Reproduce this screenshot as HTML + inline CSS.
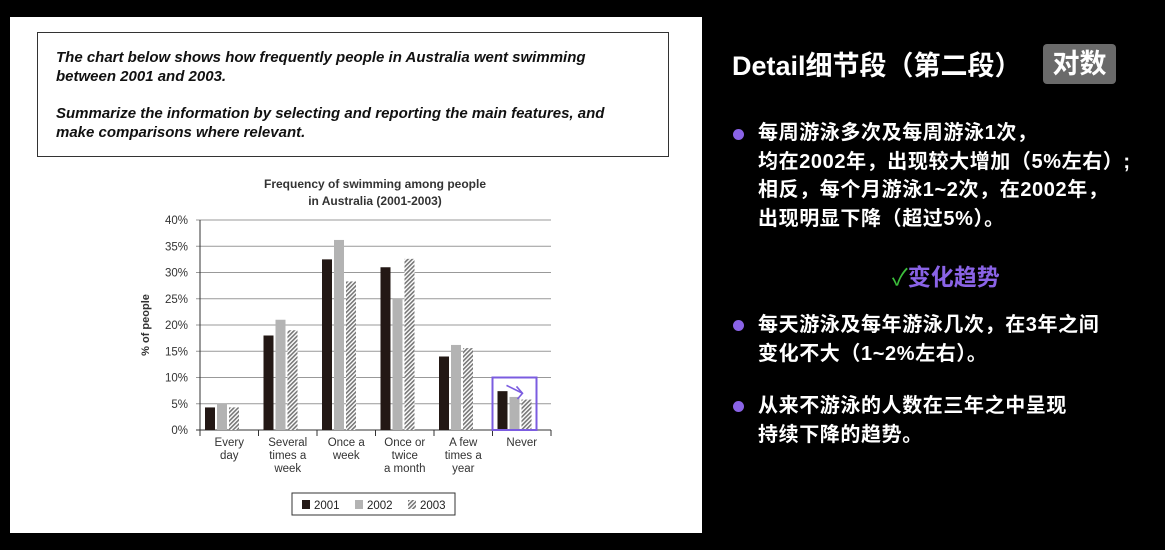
<!DOCTYPE html>
<html><head><meta charset="utf-8"><style>
body{margin:0;width:1165px;height:550px;background:#000;position:relative;overflow:hidden;font-family:"Liberation Sans","Noto Sans CJK SC",sans-serif}
.panel{position:absolute;left:10px;top:17px;width:692px;height:516px;background:#fff}
.task{position:absolute;left:37px;top:32px;width:632px;height:125px;border:1px solid #333;box-sizing:border-box;padding:15px 40px 0 18px;font-style:italic;font-weight:bold;font-size:15px;line-height:19px;color:#111}
.task p{margin:0 0 18px}
svg text{font-family:"Liberation Sans",sans-serif}
.r{position:absolute;color:#fff;font-family:"Liberation Sans","Noto Sans CJK SC",sans-serif}
.title{left:732px;top:44px;font-size:27px;font-weight:bold}
.badge{left:1043px;top:44px;width:73px;height:40px;background:#6a6a6a;border-radius:4px;font-size:27px;font-weight:bold;text-align:center;line-height:40px}
.b{left:758px;font-size:20px;letter-spacing:0.6px;font-weight:bold;line-height:28.5px}
.dot{position:absolute;width:11px;height:11px;border-radius:50%;background:#8a63e6}
</style></head><body>
<div class="panel"></div>
<div class="task"><p>The chart below shows how frequently people in Australia went swimming between 2001 and 2003.</p><p>Summarize the information by selecting and reporting the main features, and make comparisons where relevant.</p></div>
<svg id="chart" style="position:absolute;left:0;top:0" width="702" height="550">
<defs><pattern id="hatch" width="3" height="3" patternUnits="userSpaceOnUse" patternTransform="rotate(45)"><rect width="3" height="3" fill="#fff"/><rect width="1.6" height="3" fill="#777"/></pattern></defs>
<text x="375" y="188" text-anchor="middle" font-size="12" font-weight="bold" fill="#333">Frequency of swimming among people</text>
<text x="375" y="205" text-anchor="middle" font-size="12" font-weight="bold" fill="#333">in Australia (2001-2003)</text>
<text transform="translate(149,325) rotate(-90)" text-anchor="middle" font-size="11" font-weight="bold" fill="#333">% of people</text>
<g id="g"></g>
</svg>
<div class="r title">Detail细节段（第二段）</div>
<div class="r badge">对数</div>
<div class="dot" style="left:733px;top:129px"></div>
<div class="r b" style="top:119px">每周游泳多次及每周游泳1次，<br>均在2002年，出现较大增加（5%左右）;<br>相反，每个月游泳1~2次，在2002年，<br>出现明显下降（超过5%）。</div>
<div class="r" style="left:892px;top:258px;font-size:23px;font-weight:bold;color:#8a63e6"><span style="color:#3cbf3c;font-weight:normal">✓</span>变化趋势</div>
<div class="dot" style="left:733px;top:320px"></div>
<div class="r b" style="top:311px">每天游泳及每年游泳几次，在3年之间<br>变化不大（1~2%左右）。</div>
<div class="dot" style="left:733px;top:401px"></div>
<div class="r b" style="top:392px">从来不游泳的人数在三年之中呈现<br>持续下降的趋势。</div>
<script>
const categories=[["Every","day"],["Several","times a","week"],["Once a","week"],["Once or","twice","a month"],["A few","times a","year"],["Never"]];
const s2001=[4.3,18,32.5,31,14,7.4];
const s2002=[5,21,36.2,25,16.2,6.3];
const s2003=[4.3,19,28.3,32.6,15.6,5.8];
const yTicks=[0,5,10,15,20,25,30,35,40];
const years=["2001","2002","2003"];
const NS="http://www.w3.org/2000/svg",g=document.getElementById('g');
const X0=200,X1=551,Y0=430,YT=220,gw=(X1-X0)/categories.length;
const y=v=>Y0-(v/40)*(Y0-YT);
function mk(t,a,txt){const e=document.createElementNS(NS,t);for(const k in a)e.setAttribute(k,a[k]);if(txt!=null)e.textContent=txt;g.appendChild(e);return e;}
yTicks.forEach(t=>{
 const l=mk('line',{x1:X0-4,x2:X1,y1:y(t),y2:y(t),stroke:t?'#999':'#333','stroke-width':1});
 
 
 const tx=mk('text',{x:X0-12,y:y(t)+4,'text-anchor':'end','font-size':11.5,fill:'#333'},t+'%');
 
 
});
mk('line',{x1:X0,x2:X0,y1:YT,y2:Y0,stroke:'#333'});
const fills=['#231815','#b3b3b3','url(#hatch)'];
[s2001,s2002,s2003].forEach((s,si)=>s.forEach((v,i)=>{
 const r=mk('rect',{x:X0+i*gw+5+si*12,y:y(v),width:10,height:Y0-y(v),fill:fills[si]});
 
 
}));
for(let i=0;i<=categories.length;i++)mk('line',{x1:X0+i*gw,x2:X0+i*gw,y1:Y0,y2:Y0+6,stroke:'#333'});
categories.forEach((c,i)=>c.forEach((ln,j)=>{
 const t=mk('text',{x:X0+(i+0.5)*gw,y:Y0+16+j*13,'text-anchor':'middle','font-size':11.5,fill:'#333'},ln);
 
 
}));
const hi=categories.length-1;
const hb=mk('rect',{x:X0+hi*gw,y:y(10),width:44,height:Y0-y(10),fill:'none',stroke:'#7b5ce0','stroke-width':2});


mk('path',{d:`M${X0+hi*gw+14} ${y(8.5)} L${X0+hi*gw+30} ${y(7)} M${X0+hi*gw+24} ${y(8.3)} L${X0+hi*gw+30} ${y(7)} L${X0+hi*gw+25} ${y(5.9)}`,stroke:'#7b5ce0','stroke-width':1.6,fill:'none'});
const lg=mk('rect',{x:292,y:493,width:163,height:22,fill:'#fff',stroke:'#333'});


years.forEach((yr,i)=>{
 mk('rect',{x:302+i*53,y:500,width:8,height:9,fill:fills[i]});
 const t=mk('text',{x:314+i*53,y:509,'font-size':11.5,fill:'#222'},yr);
 
 
});
</script>
</body></html>
